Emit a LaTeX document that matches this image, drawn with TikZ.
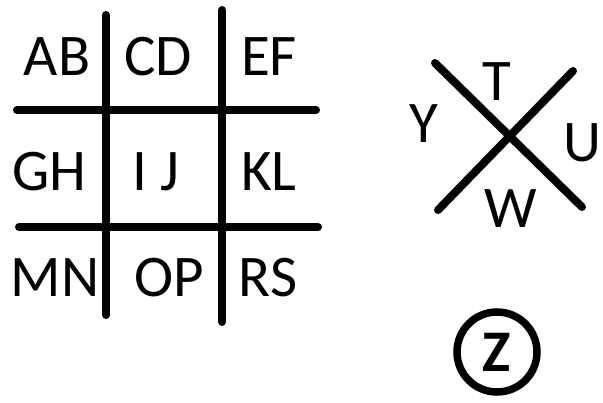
\documentclass[tikz,border=0pt]{standalone}
\usepackage{fontspec}
\setmainfont{Carlito}
\begin{document}
\begin{tikzpicture}[x=1pt,y=-1pt,
  stroke/.style={line width=8pt,line cap=round},
  lbl/.style={inner sep=0pt,font=\fontsize{59}{60}\selectfont},
  ring/.style={circle,draw,line width=7.5pt,minimum size=80pt,inner sep=0pt,font=\fontsize{59}{60}\selectfont\bfseries}]
\useasboundingbox (0,0) rectangle (603,403);
% grid
\draw[stroke] (106,15) -- (106,315);
\draw[stroke] (222,10) -- (222,322);
\draw[stroke] (17,110) -- (316,110);
\draw[stroke] (19,227) -- (318,227);
\node[lbl] (ab) at (57,57) {AB};
\node[lbl] (cd) at (158,57) {CD};
\node[lbl] (ef) at (269,57) {EF};
\node[lbl] (gh) at (49,172) {GH};
\node[lbl] (ij) at (156,172) {I J};
\node[lbl] (kl) at (269,172) {KL};
\node[lbl] (mn) at (55,278) {MN};
\node[lbl] (op) at (169,278) {OP};
\node[lbl] (rs) at (268,278) {RS};
% X
\draw[stroke] (435,63) -- (582,207);
\draw[stroke] (573,71) -- (438,210);
\node[lbl] (t) at (497,82) {T};
\node[lbl] (y) at (424,124) {Y};
\node[lbl] (u) at (582,143) {U};
\node[lbl] (w) at (511,209) {W};
% circle
\node[ring] (z) at (497,352) {Z};
\end{tikzpicture}
\end{document}
